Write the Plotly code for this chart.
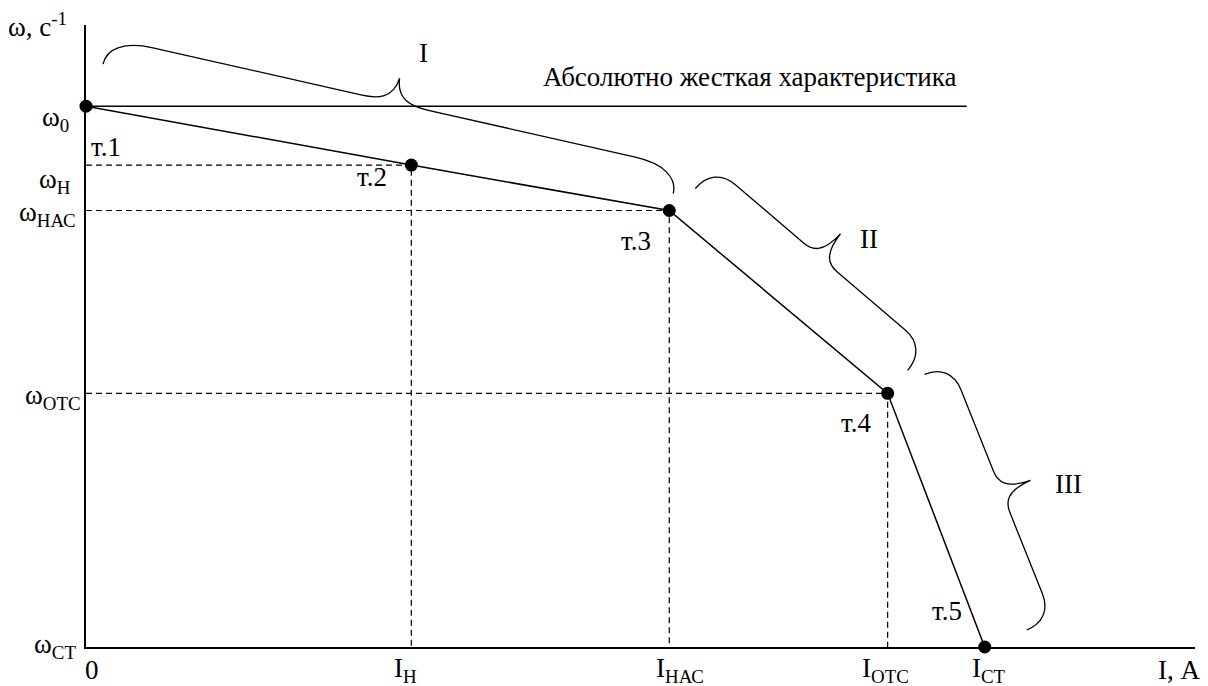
import plotly.graph_objects as go

# Characteristic points т.1 … т.5 of the drive: current I and speed ω (relative units)
point_names = ["т.1", "т.2", "т.3", "т.4", "т.5"]
current = [0.0, 36.2, 64.9, 89.2, 100.0]
speed = [100.0, 89.1, 80.7, 46.9, 0.0]

# Labels of the marked current / speed values
current_labels = ["0", "I<sub>Н</sub>", "I<sub>НАС</sub>", "I<sub>ОТС</sub>", "I<sub>СТ</sub>"]
speed_labels = ["ω<sub>0</sub>", "ω<sub>Н</sub>", "ω<sub>НАС</sub>", "ω<sub>ОТС</sub>", "ω<sub>СТ</sub>"]

# Absolutely rigid characteristic: ω = ω0 for all currents
rigid_current = [0.0, 98.0]
rigid_speed = [100.0, 100.0]
rigid_label = "Абсолютно жесткая характеристика"

# Sections of the characteristic, each spanning two of the points
section_names = ["I", "II", "III"]
section_spans = [(0, 2), (2, 3), (3, 4)]

# Axis extents
x_end = 123.4
y_end = 115.0

W, H = 1208, 686
ML, MR, MT, MB = 86, 13, 25, 39
PW, PH = W - ML - MR, H - MT - MB
SX = PW / x_end
SY = PH / y_end

FONT = "Liberation Serif"
FS = 27
BLACK = "#000000"


def to_px(x, y):
    return ML + x * SX, MT + (y_end - y) * SY


def to_data(px, py):
    return (px - ML) / SX, y_end - (py - MT) / SY


def brace_path(p_start, p_end, h, tip, a, b):
    """Curly brace between two pixel points, bulging to the upper right."""
    x0, y0 = p_start
    x1, y1 = p_end
    dx, dy = x1 - x0, y1 - y0
    length = (dx * dx + dy * dy) ** 0.5
    ux, uy = dx / length, dy / length
    nx, ny = uy, -ux  # outward normal (screen coords, y down)
    m = length / 2

    def P(u, v):
        px = x0 + ux * u + nx * v
        py = y0 + uy * u + ny * v
        X, Y = to_data(px, py)
        return f"{X:.4f},{Y:.4f}"

    d = tip - h
    parts = [
        f"M {P(0, 0)}",
        f"C {P(0, 0.6 * h)} {P(0.35 * a, h)} {P(a, h)}",
        f"L {P(m - b, h)}",
        f"C {P(m - 0.5 * b, h)} {P(m - 0.05 * b, h + 0.15 * d)} {P(m, tip)}",
        f"C {P(m + 0.05 * b, h + 0.15 * d)} {P(m + 0.5 * b, h)} {P(m + b, h)}",
        f"L {P(length - a, h)}",
        f"C {P(length - 0.35 * a, h)} {P(length, 0.6 * h)} {P(length, 0)}",
    ]
    tip_px = (x0 + ux * m + nx * tip, y0 + uy * m + ny * tip)
    return " ".join(parts), tip_px


fig = go.Figure()

# Rigid characteristic
fig.add_trace(go.Scatter(
    x=rigid_current, y=rigid_speed, mode="lines",
    line=dict(color=BLACK, width=1.5), cliponaxis=False, hoverinfo="skip",
))

# Dashed guides from the intermediate points to the axes
for i in range(1, 4):
    fig.add_trace(go.Scatter(
        x=[0, current[i], current[i]], y=[speed[i], speed[i], 0],
        mode="lines", line=dict(color=BLACK, width=1.2, dash="6px,4px"),
        cliponaxis=False, hoverinfo="skip",
    ))

# Electromechanical characteristic with its points
fig.add_trace(go.Scatter(
    x=current, y=speed, mode="lines+markers",
    line=dict(color=BLACK, width=1.5),
    marker=dict(color=BLACK, size=13),
    cliponaxis=False, hoverinfo="skip",
))

annotations = []


def label(text, x, y, xanchor="center", yanchor="middle", xshift=0, yshift=0):
    annotations.append(dict(
        text=text, x=x, y=y, xref="x", yref="y", showarrow=False,
        xanchor=xanchor, yanchor=yanchor, xshift=xshift, yshift=yshift,
        font=dict(family=FONT, size=FS, color=BLACK),
    ))


# Speed labels on the vertical axis
speed_shift = [(-15, -13), (-13, -16), (-8, -3), (-3, -4), (-8, 1)]
for txt, w, (xs, ys) in zip(speed_labels, speed, speed_shift):
    label(txt, 0, w, xanchor="right", xshift=xs, yshift=ys)

# Current labels under the horizontal axis
current_shift = [6, -6, 11, -2, 4]
for txt, c, xs in zip(current_labels, current, current_shift):
    label(txt, c, 0, yshift=-23, xshift=xs)

# Axis titles
label("ω, с<sup>-1</sup>", 0, y_end, xanchor="right", xshift=-17, yshift=0)
label("I, А", x_end, 0, xanchor="center", xshift=-16, yshift=-23)

# Point names
point_shift = [("left", 3, -41), ("right", -22, -12), ("right", -16, -30),
               ("right", -14, -30), ("right", -21, 36)]
for name, c, w, (xa, xs, ys) in zip(point_names, current, speed, point_shift):
    label(name, c, w, xanchor=xa, xshift=xs, yshift=ys)

# Rigid characteristic caption
label(rigid_label, rigid_current[1], rigid_speed[1], xanchor="right",
      yanchor="bottom", xshift=-9, yshift=12)

# Section braces with their numerals
brace_style = [
    # start offset, end offset, arm height, tip height, end curl, tip curl
    ((17, -42), (4, -17), 27, 52, 45, 34),
    ((26, -22), (20, -23), 29, 60, 28, 22),
    ((37, -19), (42, -17), 28, 59, 28, 22),
]
numeral_shift = [(24, -25), (29, 5), (38, 4)]
shapes = []
for name, (i, j), (so, eo, h, tip, a, b), (nxs, nys) in zip(
        section_names, section_spans, brace_style, numeral_shift):
    ps = to_px(current[i], speed[i])
    pe = to_px(current[j], speed[j])
    path, tip_px = brace_path((ps[0] + so[0], ps[1] + so[1]),
                              (pe[0] + eo[0], pe[1] + eo[1]), h, tip, a, b)
    shapes.append(dict(type="path", path=path, xref="x", yref="y",
                       line=dict(color=BLACK, width=1.3)))
    tx, ty = to_data(tip_px[0] + nxs, tip_px[1] + nys)
    label(name, tx, ty)

fig.update_layout(
    width=W, height=H, autosize=False,
    margin=dict(l=ML, r=MR, t=MT, b=MB, pad=0),
    paper_bgcolor="white", plot_bgcolor="white",
    showlegend=False,
    xaxis=dict(range=[0, x_end], showgrid=False, zeroline=False,
               showticklabels=False, ticks="", showline=True,
               linecolor=BLACK, linewidth=2, fixedrange=True),
    yaxis=dict(range=[0, y_end], showgrid=False, zeroline=False,
               showticklabels=False, ticks="", showline=True,
               linecolor=BLACK, linewidth=2, fixedrange=True),
    annotations=annotations,
    shapes=shapes,
    font=dict(family=FONT, size=FS, color=BLACK),
)

fig.write_html("out.html", config={"displayModeBar": False})
